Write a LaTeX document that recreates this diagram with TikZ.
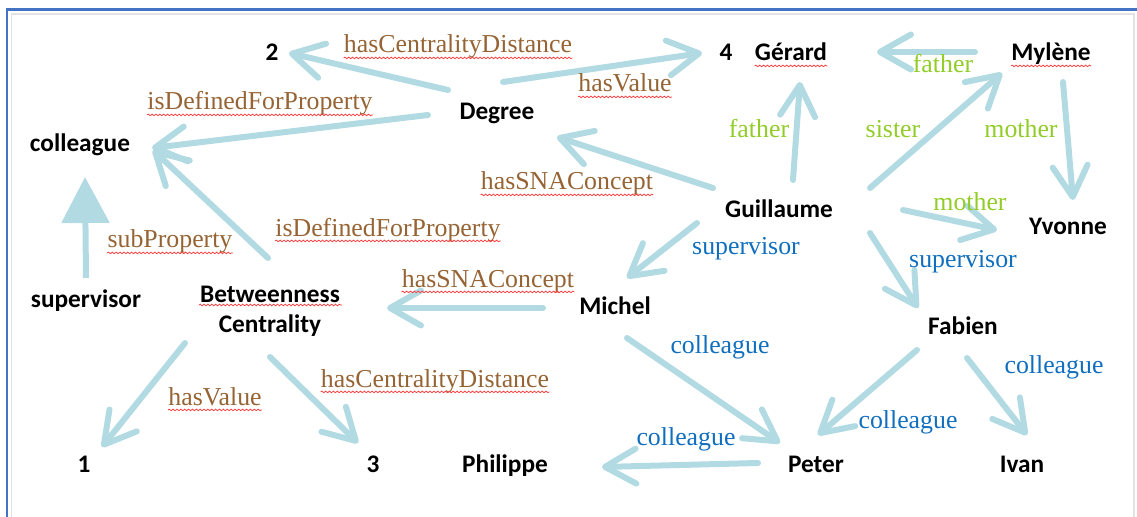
\documentclass[tikz,border=0pt]{standalone}
\usepackage{fontspec}
\setmainfont{Liberation Serif}
\newfontfamily\entityfont{Carlito}
\usetikzlibrary{arrows.meta, calc, decorations.pathmorphing}

\definecolor{linkblue}{RGB}{178, 218, 226}
\definecolor{relbrown}{RGB}{150, 100, 52}
\definecolor{famgreen}{RGB}{146, 204, 40}
\definecolor{orgblue}{RGB}{16, 110, 190}
\definecolor{frameblue}{RGB}{68, 114, 196}
\definecolor{framegrey}{RGB}{226, 226, 226}

\tikzset{
  entity/.style={font=\fontsize{14.4}{17}\selectfont\entityfont\bfseries, inner sep=0pt, anchor=base},
  rel/.style={font=\fontsize{14.7}{17}\selectfont, inner sep=0pt, anchor=base},
  spell/.style={draw=red!75, line width=0.45pt, decorate, decoration={snake, amplitude=0.45pt, segment length=2.2pt}},
  wavy/.style={append after command={([yshift=-2.8pt]\tikzlastnode.base west) edge[spell] ([yshift=-2.8pt]\tikzlastnode.base east)}},
  concept/.style={rel, text=relbrown, wavy},
  family/.style={rel, text=famgreen},
  work/.style={rel, text=orgblue},
  link/.style={draw=linkblue, line width=0.12cm, line cap=round, -{Straight Barb[length=0.62cm, width=0.7cm, round]}},
  subarrow/.style={draw=linkblue, line width=0.12cm, -{Triangle[length=0.92cm, width=0.94cm]}}
}

\begin{document}
\begin{tikzpicture}[x=0.02cm, y=-0.02cm]
  \useasboundingbox (0,0) rectangle (1137,517);

  % frame
  \draw[framegrey, line width=0.04cm] (11.5,517) -- (11.5,14) -- (1134,14) -- (1134,517);
  \draw[frameblue, line width=0.06cm] (7,517) -- (7,10) -- (1137,10);

  % SNA side
  \node[entity] (two) at (272,61) {2};
  \node[entity] (four) at (726,61) {4};
  \node[entity] (degree) at (497,120) {Degree};
  \node[entity] (colleague) at (80,152) {colleague};
  \node[entity] (supervisor) at (86,307) {supervisor};
  \node[font=\fontsize{14.4}{17}\selectfont\entityfont\bfseries, inner sep=0pt, align=center] (betweenness) at (270,311) {Betweenness\\Centrality};
  \node[entity] (one) at (84,472) {1};
  \node[entity] (three) at (373,472) {3};

  % people
  \node[entity, wavy] (gerard) at (791,61) {Gérard};
  \node[entity, wavy] (mylene) at (1051,61) {Mylène};
  \node[entity] (guillaume) at (779,217) {Guillaume};
  \node[entity] (yvonne) at (1068,235) {Yvonne};
  \node[entity] (michel) at (615,315) {Michel};
  \node[entity] (fabien) at (963,335) {Fabien};
  \node[entity] (philippe) at (505,472) {Philippe};
  \node[entity] (peter) at (816,472) {Peter};
  \node[entity] (ivan) at (1022,472) {Ivan};
  \draw[spell] ($(betweenness)+(-71,-6)$) -- ($(betweenness)+(72,-6)$);

  % SNA links
  \draw[link] ($(degree.base)+(-49,-30)$) -- ($(two.base)+(17,-8)$);
  \draw[link] ($(degree.base)+(-69,-5)$) -- ($(colleague.base)+(72,-4)$);
  \draw[link] ($(degree.base)+(6,-38)$) -- ($(four.base)+(-24,-8)$);
  \draw[link] ($(guillaume.base)+(-66,-29)$) -- ($(degree.base)+(60,17)$);
  \draw[link] ($(michel.base)+(-72,-7)$) -- ($(betweenness)+(117,-3)$);
  \draw[link] ($(betweenness)+(-85,32)$) -- ($(one.base)+(18,-25)$);
  \draw[link] ($(betweenness)+(0,46)$) -- ($(three.base)+(-15,-29)$);
  \draw[link] ($(betweenness)+(-2,-53)$) -- ($(colleague.base)+(73,-2)$);
  \draw[subarrow] ($(supervisor.base)+(0,-29)$) -- ($(colleague.base)+(5,25)$);

  % family links
  \draw[link] ($(guillaume.base)+(14,-37)$) -- ($(gerard.base)+(9,21)$);
  \draw[link] ($(guillaume.base)+(91,-29)$) -- ($(mylene.base)+(-49,12)$);
  \draw[link] ($(mylene.base)+(-76,-9)$) -- ($(gerard.base)+(86,-9)$);
  \draw[link] ($(mylene.base)+(12,21)$) -- ($(yvonne.base)+(5,-35)$);
  \draw[link] ($(guillaume.base)+(124,-7)$) -- ($(yvonne.base)+(-71,-5)$);

  % work links
  \draw[link] ($(guillaume.base)+(-82,6)$) -- ($(michel.base)+(12,-37)$);
  \draw[link] ($(guillaume.base)+(91,16)$) -- ($(fabien.base)+(-45,-27)$);
  \draw[link] ($(michel.base)+(12,23)$) -- ($(peter.base)+(-36,-29)$);
  \draw[link] ($(peter.base)+(-58,-9)$) -- ($(philippe.base)+(97,-5)$);
  \draw[link] ($(fabien.base)+(-46,15)$) -- ($(peter.base)+(2,-37)$);
  \draw[link] ($(fabien.base)+(4,23)$) -- ($(ivan.base)+(5,-37)$);

  % labels
  \node[concept] (distTop) at (458,53) {hasCentralityDistance};
  \node[concept] (valueTop) at (625,92) {hasValue};
  \node[concept] (propTop) at (260,110) {isDefinedForProperty};
  \node[concept] (subProp) at (170,248) {subProperty};
  \node[concept] (propMid) at (388,236) {isDefinedForProperty};
  \node[concept] (snaTop) at (567,190) {hasSNAConcept};
  \node[concept] (snaMid) at (488,287) {hasSNAConcept};
  \node[concept] (distLow) at (435,387) {hasCentralityDistance};
  \node[concept] (valueLow) at (215,405) {hasValue};

  \node[family] (fatherG) at (759,138) {father};
  \node[family] (sisterG) at (893,138) {sister};
  \node[family] (motherM) at (1021,138) {mother};
  \node[family] (fatherM) at (943,73) {father};
  \node[family] (motherG) at (970,211) {mother};

  \node[work] (supMichel) at (746,255) {supervisor};
  \node[work] (supFabien) at (963,267) {supervisor};
  \node[work] (colMichel) at (720,353) {colleague};
  \node[work] (colPeter) at (686,445) {colleague};
  \node[work] (colFabien) at (908,428) {colleague};
  \node[work] (colIvan) at (1054,373) {colleague};
\end{tikzpicture}
\end{document}
